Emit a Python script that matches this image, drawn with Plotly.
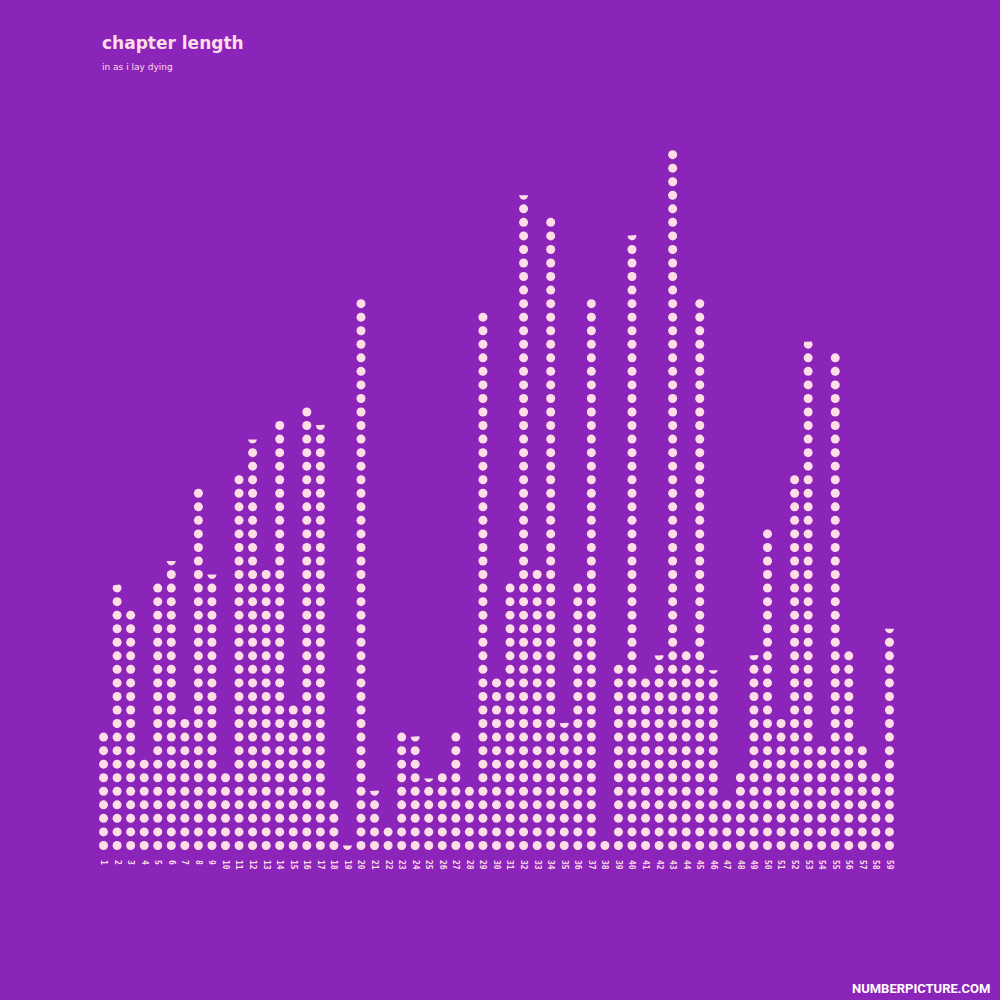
import numpy as np
import plotly.graph_objects as go

# chapter lengths in "dots" (one dot per unit, the last dot may be a fraction)
chapters = list(range(1, 60))
lengths = [
    9, 19.9, 18, 7, 20, 21.5, 10, 27, 20.5, 6,
    28, 30.45, 21, 32, 11, 33, 31.6, 4, 0.5, 41,
    4.6, 2, 9, 8.6, 5.4, 6, 9, 5, 40, 13,
    20, 48.5, 21, 47, 9.6, 20, 41, 1, 14, 45.6,
    13, 14.55, 52, 15, 41, 13.4, 4, 6, 14.6, 24,
    10, 28, 37.8, 8, 37, 15, 8, 6, 16.5,
]
tick_labels = [str(c) for c in chapters]

title = "chapter length"
subtitle = "in as i lay dying"
credit = "NUMBERPICTURE.COM"

BG = "#8b25ba"
DOT = "#ffdde6"
R = 0.33  # dot radius in data units (both axes share the same scale)

# whole dots
full_x, full_y = [], []
for c, v in zip(chapters, lengths):
    n = int(np.floor(v))
    for k in range(1, n + 1):
        full_x.append(c)
        full_y.append(k)

# partial top dot: circle clipped flat on top
part_x, part_y = [], []
for c, v in zip(chapters, lengths):
    frac = v - np.floor(v)
    if frac <= 0:
        continue
    k = np.floor(v) + 1
    cut = k - R + 2 * R * frac
    t = np.linspace(0, 2 * np.pi, 60)
    px_ = c + R * np.cos(t)
    py_ = np.minimum(k + R * np.sin(t), cut)
    part_x += list(px_) + [None]
    part_y += list(py_) + [None]

fig = go.Figure()
fig.add_trace(go.Scatter(
    x=full_x, y=full_y, mode="markers",
    marker=dict(size=9, color=DOT, line=dict(width=0)),
    hoverinfo="skip",
))
fig.add_trace(go.Scatter(
    x=part_x, y=part_y, mode="lines", fill="toself",
    fillcolor=DOT, line=dict(width=0, color=DOT),
    hoverinfo="skip",
))

# page-pixel margins of the plotting area
W, H = 1000, 1000
l, r, t, b = 90, 97, 114, 141

def paper_x(px):
    return (px - l) / (W - l - r)

def paper_y(py):
    return (H - py - b) / (H - t - b)

fig.update_layout(
    width=W, height=H,
    paper_bgcolor=BG, plot_bgcolor=BG,
    margin=dict(l=l, r=r, t=t, b=b),
    showlegend=False,
    xaxis=dict(
        range=[0, 60], showgrid=False, zeroline=False, showline=False,
        tickmode="array", tickvals=chapters,
        ticktext=["<b>" + s + "</b>" for s in tick_labels],
        tickangle=90, ticks="", ticklen=0,
        tickfont=dict(family="DejaVu Sans Mono", size=8, color=DOT),
    ),
    yaxis=dict(
        range=[0, 55], showgrid=False, zeroline=False, showline=False,
        showticklabels=False,
    ),
    annotations=[
        dict(text="<b>" + title + "</b>", x=paper_x(100), y=paper_y(43),
             xref="paper", yref="paper",
             showarrow=False, xanchor="left", yanchor="middle",
             font=dict(family="DejaVu Sans", size=17, color=DOT)),
        dict(text=subtitle, x=paper_x(100), y=paper_y(67),
             xref="paper", yref="paper",
             showarrow=False, xanchor="left", yanchor="middle",
             font=dict(family="DejaVu Sans", size=9, color=DOT)),
        dict(text="<b>" + credit + "</b>", x=paper_x(992), y=paper_y(988),
             xref="paper", yref="paper",
             showarrow=False, xanchor="right", yanchor="middle",
             font=dict(family="Roboto", size=13, color="white")),
    ],
)

fig.write_html("out.html", config={"displayModeBar": False},
               post_script="document.body.style.margin='0';")
